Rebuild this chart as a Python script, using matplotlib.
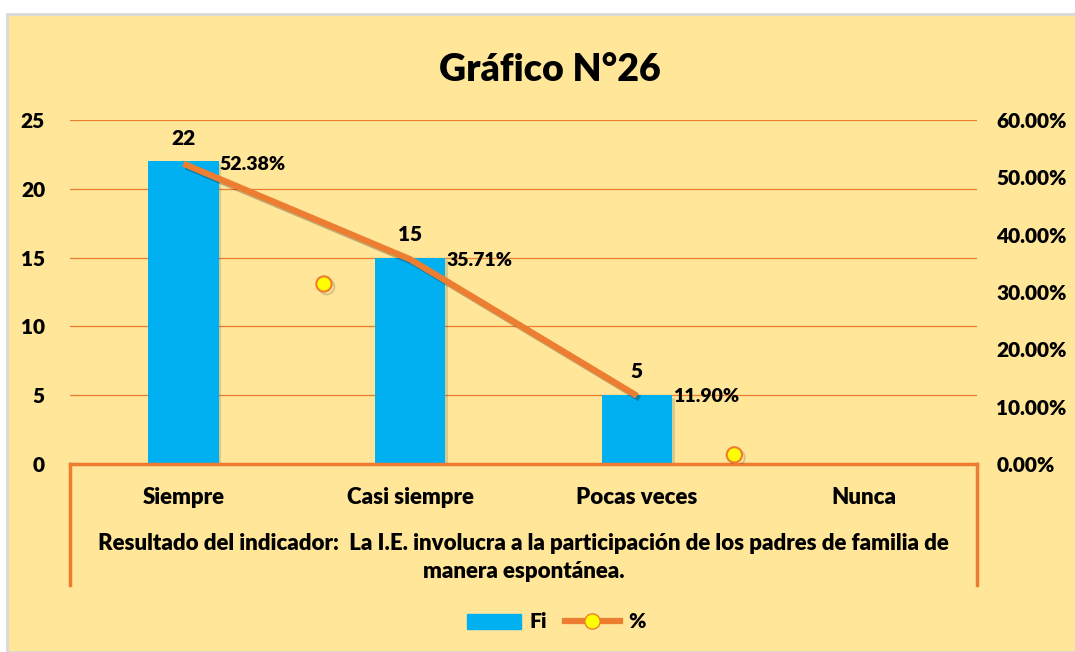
import matplotlib.pyplot as plt
import matplotlib.patheffects as pe
from matplotlib.lines import Line2D
from matplotlib.patches import Patch, Rectangle

plt.rcParams['font.family'] = ['Lato', 'DejaVu Sans']
plt.rcParams['font.weight'] = 'heavy'

# data
categories = ['Siempre', 'Casi siempre', 'Pocas veces', 'Nunca']
fi = [22, 15, 5, 0]
pct = [52.38, 35.71, 11.90]
# stray markers of the % series as they appear in the chart
marker_x = [0.62, 2.43]
marker_pct = [31.4, 1.6]

bg = '#FFE699'
orange = '#ED7D31'
blue = '#00B0F0'
W, H = 1075, 652

fig = plt.figure(figsize=(10.75, 6.52), dpi=100, facecolor='white')
fig.patches.append(Rectangle((7 / W, 0), 1.01, 1 - 14 / H, transform=fig.transFigure,
                             facecolor=bg, edgecolor='#D9D9D9', lw=2, zorder=-5))

ax = fig.add_axes([70 / W, 1 - 464 / H, 907 / W, 344 / H])
ax.set_facecolor('none')
ax2 = ax.twinx()

x = list(range(len(categories)))
ax.bar(x, fi, width=0.31, color=blue, zorder=2,
       path_effects=[pe.SimplePatchShadow(offset=(2, -2), alpha=0.15), pe.Normal()])
ax.set_xlim(-0.5, 3.5)
ax.set_ylim(0, 25)
ax.set_yticks([0, 5, 10, 15, 20, 25])
ax.grid(axis='y', color=orange, lw=0.9, zorder=0)
ax.set_axisbelow(True)
ax.tick_params(axis='y', length=0, pad=18, labelsize=15)
ax.tick_params(axis='x', length=0, labelbottom=False)
for s in ['top', 'right', 'left']:
    ax.spines[s].set_visible(False)
ax.spines['bottom'].set_color(orange)
ax.spines['bottom'].set_linewidth(2.5)

for xi, v in zip(x[:3], fi[:3]):
    ax.text(xi, v + 1.0, str(v), ha='center', va='bottom', fontsize=15)

ax2.set_ylim(0, 60)
ax2.set_yticks(range(0, 61, 10))
ax2.set_yticklabels([f'{t:.2f}%' for t in range(0, 61, 10)])
ax2.tick_params(axis='y', length=0, pad=14, labelsize=15)
for s in ax2.spines.values():
    s.set_visible(False)

shadow = [pe.SimpleLineShadow(offset=(2, -2), alpha=0.25), pe.Normal()]
ax2.plot(x[:3], pct, color=orange, lw=4.5, solid_capstyle='butt', path_effects=shadow, zorder=3)
ax2.plot(marker_x, marker_pct, ls='none', marker='o', ms=11, mfc='#FFFF00', mec=orange, mew=1.5,
         path_effects=[pe.SimpleLineShadow(offset=(2, -2), alpha=0.15), pe.Normal()], zorder=4)
for xi, p in zip(x[:3], pct):
    ax2.text(xi + 0.16, p - 0.2, f'{p:.2f}%', ha='left', va='center', fontsize=14)

# category labels and description below the axis
for xi, c in zip(x, categories):
    ax.text(xi, -2.4, c, ha='center', va='center', fontsize=16, clip_on=False)
ax.text(1.5, -6.8, 'Resultado del indicador:  La I.E. involucra a la participación de los padres de familia de\nmanera espontánea.',
        ha='center', va='center', fontsize=16, linespacing=1.45, clip_on=False)
for xb in [-0.5, 3.5]:
    ax.plot([xb, xb], [0, -8.8], color=orange, lw=2.5, clip_on=False)

fig.text(550 / W, 1 - 70 / H, 'Gráfico N°26', ha='center', va='center', fontsize=27)

handles = [Patch(color=blue, label='Fi'),
           Line2D([], [], color=orange, lw=4.5, marker='o', ms=11, mfc='#FFFF00', mec=orange, label='%')]
fig.legend(handles=handles, loc='center', bbox_to_anchor=(556 / W, 1 - 622 / H), ncol=2,
           frameon=False, fontsize=15, handlelength=2.6, columnspacing=0.9, handletextpad=0.4)

fig.savefig('out.png', dpi=100)
